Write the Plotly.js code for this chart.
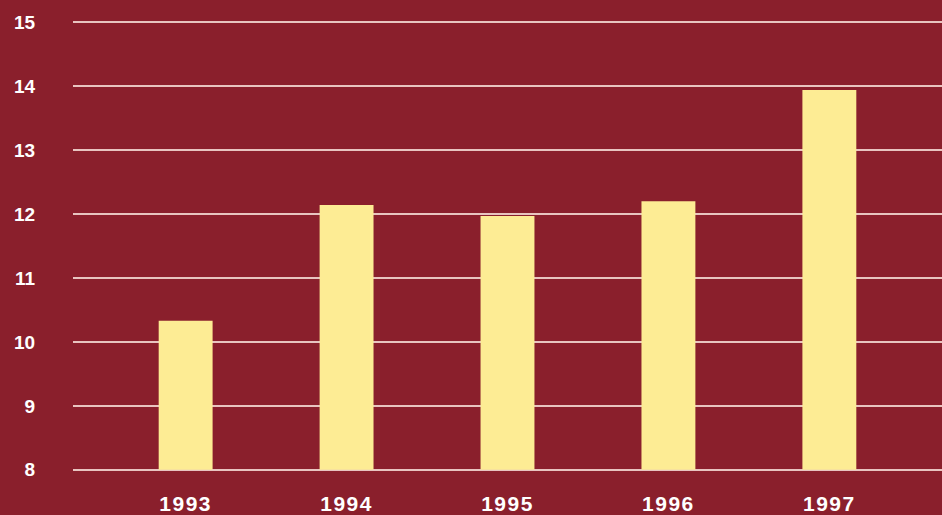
<!DOCTYPE html>
<html>
<head>
<meta charset="utf-8">
<script src="https://cdn.plot.ly/plotly-3.0.1.min.js"></script>
<style>
  html, body { margin: 0; padding: 0; background: #8a1f2c; }
  #chart { width: 942px; height: 515px; }
  #chart .xtick text { letter-spacing: 1.5px; }
</style>
</head>
<body>
<div id="chart"></div>
<script>
// Data
var years = ["1993", "1994", "1995", "1996", "1997"];
var values = [10.33, 12.14, 11.97, 12.2, 13.94];
var yTicks = [8, 9, 10, 11, 12, 13, 14, 15];
var baseValue = 8;

var trace = {
  type: "bar",
  x: years,
  y: values.map(function (v) { return v - baseValue; }),
  base: baseValue,
  width: 0.335,
  marker: { color: "#fdec94", line: { width: 0 } },
  customdata: values,
  hovertemplate: "%{x}: %{customdata}<extra></extra>"
};

var layout = {
  width: 942,
  height: 515,
  margin: { l: 73, r: 0, t: 19, b: 42 },
  paper_bgcolor: "#8a1f2c",
  plot_bgcolor: "#8a1f2c",
  showlegend: false,
  font: { family: "Liberation Sans, Arial, sans-serif", color: "#ffffff" },
  xaxis: {
    type: "category",
    range: [-0.7, 4.7],
    showgrid: false,
    zeroline: false,
    showline: false,
    ticks: "outside",
    ticklen: 12,
    tickcolor: "rgba(0,0,0,0)",
    tickfont: { size: 21, color: "#ffffff", weight: "bold" },
    fixedrange: true
  },
  yaxis: {
    range: [7.95, 15.05],
    tickvals: yTicks,
    ticktext: yTicks.map(String),
    showgrid: true,
    gridcolor: "#e8c4c0",
    gridwidth: 1.6,
    zeroline: false,
    showline: false,
    ticks: "outside",
    ticklen: 33,
    tickcolor: "rgba(0,0,0,0)",
    tickfont: { size: 19, color: "#ffffff", weight: "bold" },
    fixedrange: true
  }
};

Plotly.newPlot("chart", [trace], layout, { displayModeBar: false, staticPlot: true });
</script>
</body>
</html>
